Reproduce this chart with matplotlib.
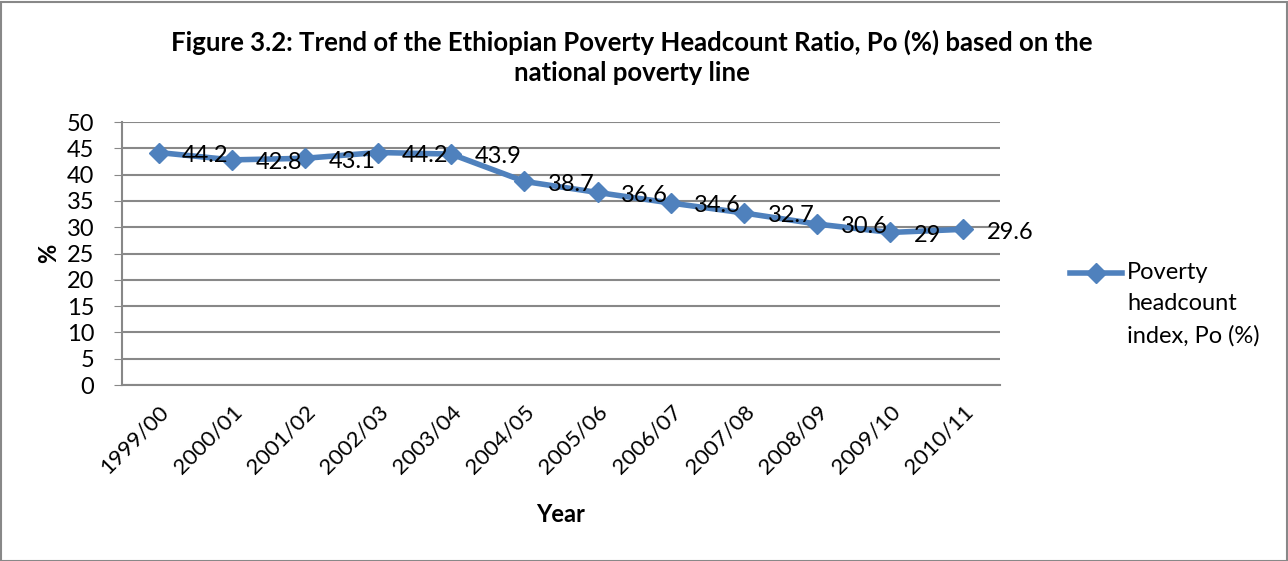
import matplotlib
matplotlib.use("Agg")
import matplotlib.pyplot as plt
from matplotlib.patches import Rectangle
from matplotlib.lines import Line2D

years = ["1999/00", "2000/01", "2001/02", "2002/03", "2003/04", "2004/05",
         "2005/06", "2006/07", "2007/08", "2008/09", "2009/10", "2010/11"]
headcount = [44.2, 42.8, 43.1, 44.2, 43.9, 38.7, 36.6, 34.6, 32.7, 30.6, 29.0, 29.6]
value_labels = ["44.2", "42.8", "43.1", "44.2", "43.9", "38.7", "36.6", "34.6",
                "32.7", "30.6", "29", "29.6"]
yticks = [0, 5, 10, 15, 20, 25, 30, 35, 40, 45, 50]
series_name = "Poverty\nheadcount\nindex, Po (%)"

plt.rcParams["font.family"] = ["Lato", "DejaVu Sans"]
blue = "#4F81BD"
grey = "#888888"

W, H = 1288, 561
fig = plt.figure(figsize=(W / 100, H / 100), dpi=100)
ax = fig.add_axes([122 / W, 1 - 385 / H, (1000 - 122) / W, (385 - 122) / H])

x = list(range(len(years)))
ax.plot(x, headcount, color=blue, lw=4, marker="D", markersize=10,
        markeredgecolor=blue, markerfacecolor=blue, zorder=3)

for xi, yi, txt in zip(x, headcount, value_labels):
    ax.annotate(txt, (xi, yi), xytext=(17, -2), textcoords="offset points",
                ha="left", va="center", fontsize=17, color="black", zorder=4,
                annotation_clip=False)

ax.set_xlim(-0.5, len(years) - 0.5)
ax.set_ylim(0, 50)
ax.set_yticks(yticks)
ax.set_xticks(x)
ax.set_xticklabels(years, rotation=45, ha="right", rotation_mode="anchor",
                   fontsize=16)
ax.tick_params(axis="y", labelsize=17, length=6, color=grey, pad=14)
ax.tick_params(axis="x", length=0, pad=12)
ax.yaxis.grid(True, color=grey, lw=1.5)
ax.set_axisbelow(True)
for side in ["top", "right"]:
    ax.spines[side].set_visible(False)
for side in ["left", "bottom"]:
    ax.spines[side].set_color(grey)
    ax.spines[side].set_linewidth(1.5)

ax.set_xlabel("Year", fontsize=17, fontweight="bold", labelpad=18)
ax.set_ylabel("%", fontsize=17, fontweight="bold", labelpad=5)

fig.text(632 / W, 1 - 57 / H,
         "Figure 3.2: Trend of the Ethiopian Poverty Headcount Ratio, Po (%) based on the\nnational poverty line",
         ha="center", va="center", fontsize=18.5, fontweight="bold",
         linespacing=1.3)

# Series key on the right: line sample with diamond, label beside it
key_y = 1 - 273 / H
fig.add_artist(Line2D([1070 / W, 1122 / W], [key_y, key_y], color=blue, lw=4,
                      transform=fig.transFigure))
fig.add_artist(Line2D([1096 / W], [key_y], marker="D", markersize=10,
                      color=blue, transform=fig.transFigure))
fig.text(1127 / W, 1 - 262 / H, series_name, ha="left", va="top",
         fontsize=17, linespacing=1.6)

fig.patches.append(Rectangle((0.5 / W, 0.5 / H), (W - 2) / W, (H - 2) / H,
                             transform=fig.transFigure, fill=False,
                             edgecolor=grey, lw=1.5))

fig.savefig("out.png", dpi=100)
